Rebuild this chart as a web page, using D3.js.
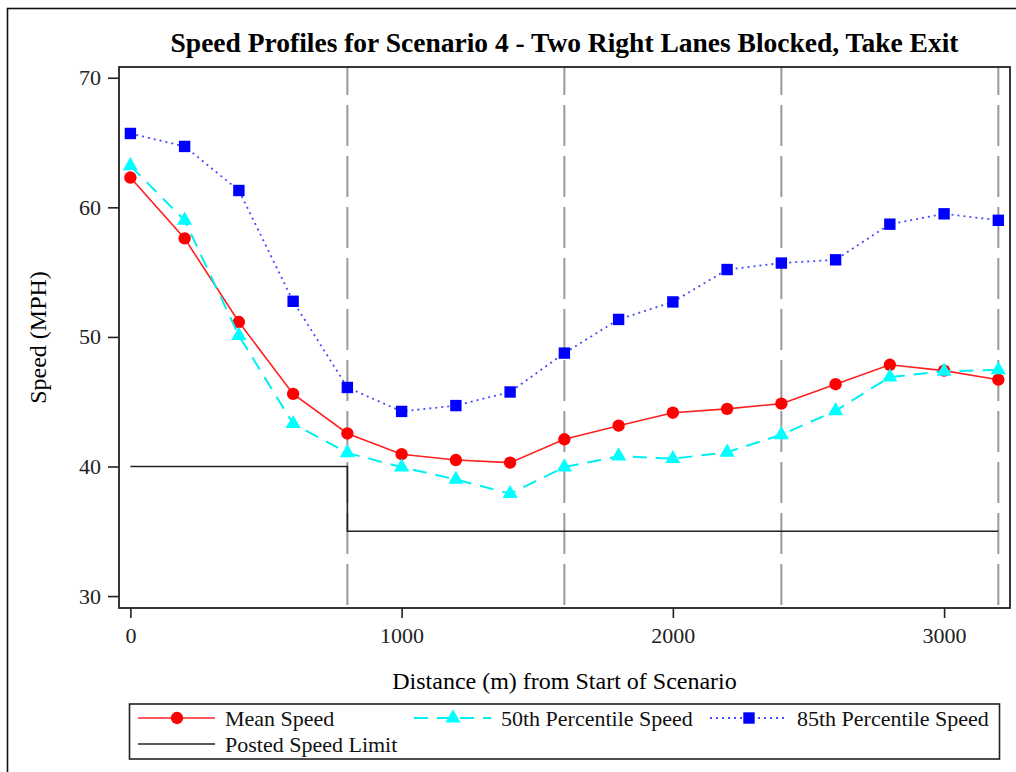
<!DOCTYPE html>
<html>
<head>
<meta charset="utf-8">
<script src="https://cdn.jsdelivr.net/npm/d3@7"></script>
<style>
  html, body { margin: 0; padding: 0; background: #fff; }
  svg { display: block; font-family: "Liberation Serif", "Times New Roman", serif; }
</style>
</head>
<body>
<svg id="chart" width="1016" height="772"></svg>
<script>
// Distance along the scenario (m) at which speeds were sampled
const distances = [0, 200, 400, 600, 800, 1000, 1200, 1400, 1600, 1800, 2000, 2200, 2400, 2600, 2800, 3000, 3200];
// Speed statistics (MPH)
const meanSpeed = [62.3, 57.6, 51.15, 45.6, 42.55, 40.95, 40.5, 40.3, 42.1, 43.15, 44.15, 44.45, 44.85, 46.35, 47.85, 47.4, 46.7];
const p50Speed  = [63.2, 59.0, 50.1, 43.3, 41.05, 39.95, 39.0, 37.9, 39.95, 40.8, 40.6, 41.1, 42.45, 44.3, 46.9, 47.35, 47.45];
const p85Speed  = [65.7, 64.7, 61.3, 52.75, 46.1, 44.25, 44.7, 45.75, 48.75, 51.35, 52.7, 55.2, 55.7, 55.95, 58.7, 59.5, 59.0];
// Posted speed limit as a step profile
const limitDist  = [0, 800, 800, 3200];
const limitSpeed = [40, 40, 35, 35];
// Segment boundaries
const boundaries = [800, 1600, 2400, 3200];
// Axis ticks
const xTicks = [0, 1000, 2000, 3000];
const yTicks = [30, 40, 50, 60, 70];

const titleText = "Speed Profiles for Scenario 4 - Two Right Lanes Blocked, Take Exit";
const xLabel = "Distance (m) from Start of Scenario";
const yLabel = "Speed (MPH)";

const svg = d3.select("#chart");
const plot = { left: 119, top: 67, right: 1010, bottom: 608 };

const x = d3.scaleLinear().domain([-42, 3243]).range([plot.left, plot.right]);
const y = d3.scaleLinear().domain([29.08, 70.83]).range([plot.bottom, plot.top]);

// outer border
svg.append("rect")
  .attr("x", 7.5).attr("y", 8.5).attr("width", 1100).attr("height", 900)
  .attr("fill", "none").attr("stroke", "#111").attr("stroke-width", 1.6);

// title
svg.append("text")
  .attr("x", (plot.left + plot.right) / 2).attr("y", 52)
  .attr("text-anchor", "middle")
  .attr("font-size", 27.5).attr("font-weight", "bold")
  .text(titleText);

// segment boundary lines
svg.append("g").selectAll("line").data(boundaries).join("line")
  .attr("x1", d => x(d)).attr("x2", d => x(d))
  .attr("y1", plot.top).attr("y2", plot.bottom)
  .attr("stroke", "#999").attr("stroke-width", 2)
  .attr("stroke-dasharray", "41,10").attr("stroke-dashoffset", 13);

// axes
const yAxis = svg.append("g")
  .attr("transform", `translate(${plot.left},0)`)
  .call(d3.axisLeft(y).tickValues(yTicks).tickSize(11).tickPadding(7).tickFormat(d3.format("d")));
const xAxis = svg.append("g")
  .attr("transform", `translate(0,${plot.bottom})`)
  .call(d3.axisBottom(x).tickValues(xTicks).tickSize(10).tickPadding(9).tickFormat(d3.format("d")));
[xAxis, yAxis].forEach(g => {
  g.select(".domain").remove();
  g.selectAll(".tick line").attr("stroke", "#222").attr("stroke-width", 1.6);
  g.selectAll(".tick text").attr("font-size", 22).attr("fill", "#222")
    .attr("font-family", "Liberation Serif, Times New Roman, serif");
});

// axis labels
svg.append("text")
  .attr("x", (plot.left + plot.right) / 2).attr("y", 689)
  .attr("text-anchor", "middle").attr("font-size", 24)
  .text(xLabel);
svg.append("text")
  .attr("transform", `translate(46,${(plot.top + plot.bottom) / 2}) rotate(-90)`)
  .attr("text-anchor", "middle").attr("font-size", 24)
  .text(yLabel);

// posted speed limit
const limitPts = limitDist.map((d, i) => [d, limitSpeed[i]]);
svg.append("path")
  .attr("d", d3.line().x(d => x(d[0])).y(d => y(d[1]))(limitPts))
  .attr("fill", "none").attr("stroke", "#222").attr("stroke-width", 1.6);

const series = [
  { name: "Mean Speed", values: meanSpeed, color: "#ff0000", lineColor: "#ff2020", dash: null, width: 1.6, symbol: d3.symbolCircle, size: 120 },
  { name: "50th Percentile Speed", values: p50Speed, color: "#00ffff", lineColor: "#00f0f0", dash: "14,9", width: 2, symbol: d3.symbolTriangle, size: 100 },
  { name: "85th Percentile Speed", values: p85Speed, color: "#0000ff", lineColor: "#4a4aff", dash: "2,4", width: 1.8, symbol: d3.symbolSquare, size: 130 }
];

const line = d3.line().x(d => x(d[0])).y(d => y(d[1]));
series.forEach(s => {
  const pts = distances.map((d, i) => [d, s.values[i]]);
  svg.append("path")
    .attr("d", line(pts))
    .attr("fill", "none").attr("stroke", s.lineColor)
    .attr("stroke-width", s.width)
    .attr("stroke-dasharray", s.dash);
  svg.append("g").selectAll("path").data(pts).join("path")
    .attr("transform", d => `translate(${x(d[0])},${y(d[1])})`)
    .attr("d", d3.symbol().type(s.symbol).size(s.size))
    .attr("fill", s.color);
});

// plot frame
svg.append("rect")
  .attr("x", plot.left).attr("y", plot.top)
  .attr("width", plot.right - plot.left).attr("height", plot.bottom - plot.top)
  .attr("fill", "none").attr("stroke", "#222").attr("stroke-width", 1.8);

// legend
const legend = svg.append("g");
legend.append("rect")
  .attr("x", 129.5).attr("y", 704).attr("width", 870).attr("height", 55)
  .attr("fill", "#fff").attr("stroke", "#222").attr("stroke-width", 1.6);

const legendItems = [
  { s: series[0], x0: 138, row: 0 },
  { s: series[1], x0: 414, row: 0 },
  { s: series[2], x0: 710, row: 0 },
  { s: { name: "Posted Speed Limit", lineColor: "#222", dash: null, width: 1.6, symbol: null }, x0: 138, row: 1 }
];
const rowY = [718, 744];
legendItems.forEach(item => {
  const yy = rowY[item.row];
  const s = item.s;
  legend.append("line")
    .attr("x1", item.x0).attr("x2", item.x0 + 77)
    .attr("y1", yy).attr("y2", yy)
    .attr("stroke", s.lineColor).attr("stroke-width", s.width)
    .attr("stroke-dasharray", s.dash);
  if (s.symbol) {
    legend.append("path")
      .attr("transform", `translate(${item.x0 + 39},${yy})`)
      .attr("d", d3.symbol().type(s.symbol).size(s.size))
      .attr("fill", s.color);
  }
  legend.append("text")
    .attr("x", item.x0 + 87).attr("y", yy + 7.5)
    .attr("font-size", 22).attr("fill", "#111")
    .text(s.name);
});
</script>
</body>
</html>
